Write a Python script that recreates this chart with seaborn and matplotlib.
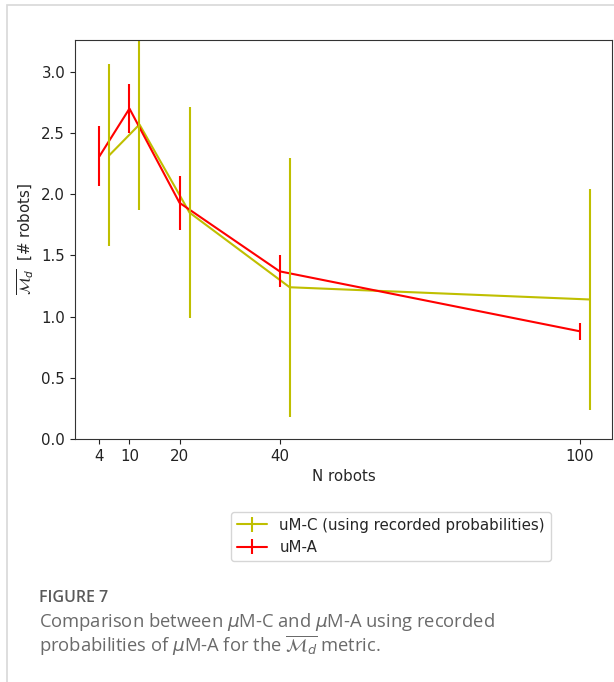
import matplotlib
matplotlib.use("Agg")
import matplotlib.pyplot as plt
from matplotlib.patches import Rectangle
import pandas as pd
import seaborn as sns

# ---------------------------------------------------------------------------
# Data
# ---------------------------------------------------------------------------
N_ROBOTS = [4, 10, 20, 40, 100]
X_TICKS = [4, 10, 20, 40, 100]

# uM-C is drawn slightly shifted to the right of the uM-A points
UMC_X = [6, 12, 22, 42, 102]
UMC_MEAN = [2.32, 2.57, 1.85, 1.24, 1.14]
UMC_ERR = [0.745, 0.70, 0.865, 1.06, 0.905]

UMA_X = N_ROBOTS
UMA_MEAN = [2.31, 2.70, 1.93, 1.37, 0.88]
UMA_ERR = [0.245, 0.20, 0.22, 0.13, 0.07]

LABEL_C = "uM-C (using recorded probabilities)"
LABEL_A = "uM-A"

FS = 10.8
CAPTION_FONT = ["Open Sans", "DejaVu Sans"]

sns.set_style("ticks")
plt.rcParams["font.family"] = ["DejaVu Sans"]

df = pd.concat([
    pd.DataFrame({"n": UMC_X, "m": UMC_MEAN, "series": LABEL_C}),
    pd.DataFrame({"n": UMA_X, "m": UMA_MEAN, "series": LABEL_A}),
])

fig = plt.figure(figsize=(6.14, 6.82), dpi=100)
ax = fig.add_axes([0.122, 0.3563, 0.8747, 0.585])

sns.lineplot(data=df, x="n", y="m", hue="series",
             palette={LABEL_C: "y", LABEL_A: "r"}, linewidth=1.5,
             legend=False, ax=ax, sort=False)
eb_c = ax.errorbar(UMC_X, UMC_MEAN, yerr=UMC_ERR, fmt="none", ecolor="y", elinewidth=1.5)
eb_a = ax.errorbar(UMA_X, UMA_MEAN, yerr=UMA_ERR, fmt="none", ecolor="r", elinewidth=1.5)

ax.set_ylim(0, 3.26)
ax.set_xlim(-0.9, 106.4)
ax.set_xticks(X_TICKS)
ax.tick_params(labelsize=FS, colors="#222222")
for s in ax.spines.values():
    s.set_visible(True)
    s.set_color("#333333")
ax.set_xlabel("N robots", fontsize=FS)
ax.set_ylabel(r"$\overline{\mathcal{M}_d}$  [# robots]", fontsize=FS)

ax.legend([(ax.lines[0], eb_c), (ax.lines[1], eb_a)], [LABEL_C, LABEL_A],
          loc="upper center", bbox_to_anchor=(0.589, -0.163), fontsize=FS,
          handlelength=2, frameon=True)

# card border and caption
fig.patches.append(Rectangle((0.0115, -0.1), 1.2, 1.0927, transform=fig.transFigure,
                             fill=False, edgecolor="#d8d8d8", linewidth=1.2))
fig.text(0.064, 0.1232, "FIGURE 7", fontsize=11.5, fontweight="semibold",
         color="#5a5a5a", family=CAPTION_FONT, va="center")
fig.text(0.064, 0.088, r"Comparison between $\mu$M-C and $\mu$M-A using recorded",
         fontsize=13.2, color="#6a6a6a", family=CAPTION_FONT, va="center")
fig.text(0.064, 0.053, r"probabilities of $\mu$M-A for the $\overline{\mathcal{M}_d}$ metric.",
         fontsize=13.2, color="#6a6a6a", family=CAPTION_FONT, va="center")

fig.savefig("out.png", dpi=100)
